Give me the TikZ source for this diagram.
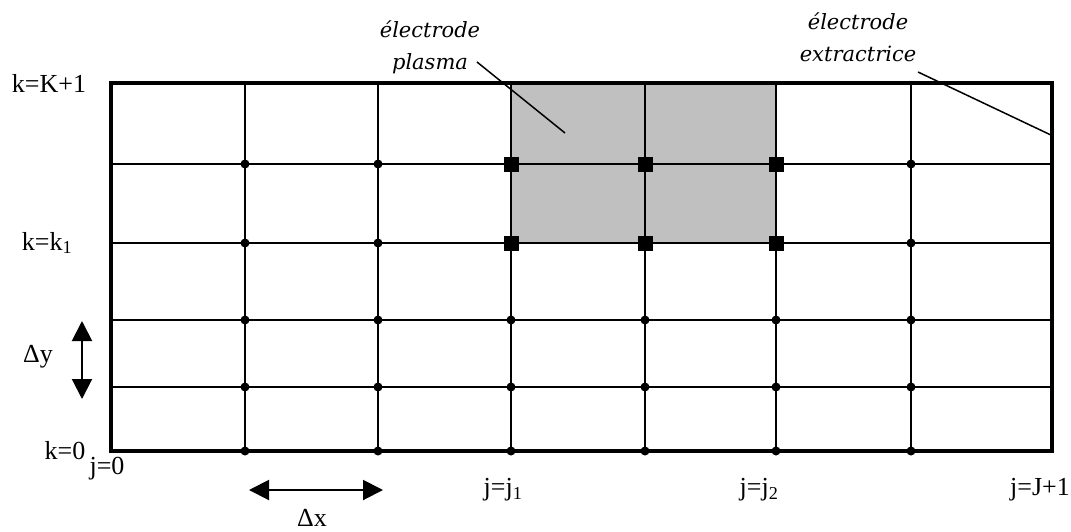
\documentclass[tikz,border=0pt]{standalone}
\usepackage{fontspec}
\setmainfont{Liberation Serif}
\newfontfamily\itfont{DejaVu Serif}
\usetikzlibrary{arrows.meta}
\begin{document}
\begin{tikzpicture}[x=1pt,y=-1pt,
  gridline/.style={line width=1.8pt},
  frameline/.style={line width=3.2pt, line cap=rect},
  dotmark/.style={circle, fill=black, inner sep=0pt, minimum size=9pt},
  sqmark/.style={rectangle, fill=black, inner sep=0pt, minimum size=15pt},
  lab/.style={font=\fontsize{26}{30}\selectfont, inner sep=0pt},
  elab/.style={font=\itfont\itshape\fontsize{21}{32}\selectfont, align=center, inner sep=0pt},
  leader/.style={line width=1.5pt},
  dimarrow/.style={line width=2pt, {Triangle[length=20pt,width=20pt]}-{Triangle[length=20pt,width=20pt]}}
]
\useasboundingbox (0,0) rectangle (1071,531);
\foreach \x [count=\i from 0] in {111,245,378,511,645,776,911,1052} {
  \foreach \y [count=\k from 0] in {83,164,243,320,387,451} {
    \coordinate (p\i-\k) at (\x,\y);
  }
}
% electrode plasma region
\fill[fill={rgb,255:red,192;green,192;blue,192}] (p3-0) rectangle (p5-2);
% interior grid
\foreach \i in {1,...,6} \draw[gridline] (p\i-0) -- (p\i-5);
\foreach \k in {1,...,4} \draw[gridline] (p0-\k) -- (p7-\k);
% frame
\draw[frameline] (p0-0) rectangle (p7-5);
\draw[line width=2.6pt] (p3-0) rectangle (p5-2);
% dots and squares
\foreach \i in {1,...,6} {
  \foreach \k in {1,...,5} {
    \pgfmathtruncatemacro{\issq}{(\i>2)&&(\i<6)&&(\k<3)}
    \ifnum\issq=1
      \node[sqmark] (s\i-\k) at (p\i-\k) {};
    \else
      \node[dotmark] (d\i-\k) at (p\i-\k) {};
    \fi
  }
}
% row / column labels
\node[lab] (kK) at (49,83) {k=K+1};
\node[lab] (kk1) at (47,243) {k=k\textsubscript{1}};
\node[lab] (k0) at (65,451) {k=0};
\node[lab] (j0) at (107,469) {j=0};
\node[lab] (jj1) at (503,490) {j=j\textsubscript{1}};
\node[lab] (jj2) at (759,490) {j=j\textsubscript{2}};
\node[lab] (jJ) at (1040,490) {j=J+1};
% step arrows
\node[lab] (dy) at (38,357) {Δy};
\coordinate (dyt) at (82,321);
\coordinate (dyb) at (82,399);
\draw[dimarrow] (dyt) -- (dyb);
\node[lab] (dx) at (312,518) {Δx};
\coordinate (dxl) at (249,490);
\coordinate (dxr) at (383,490);
\draw[dimarrow] (dxl) -- (dxr);
% electrode labels
\node[elab] (ep) at (430,47) {électrode\\plasma};
\node[elab] (ee) at (858,37) {électrode\\extractrice};
\coordinate (ep1) at (477,62);
\coordinate (ep2) at (565,133);
\draw[leader] (ep1) -- (ep2);
\coordinate (ee1) at (918,72);
\coordinate (ee2) at (1053,136);
\draw[leader] (ee1) -- (ee2);
\end{tikzpicture}
\end{document}
